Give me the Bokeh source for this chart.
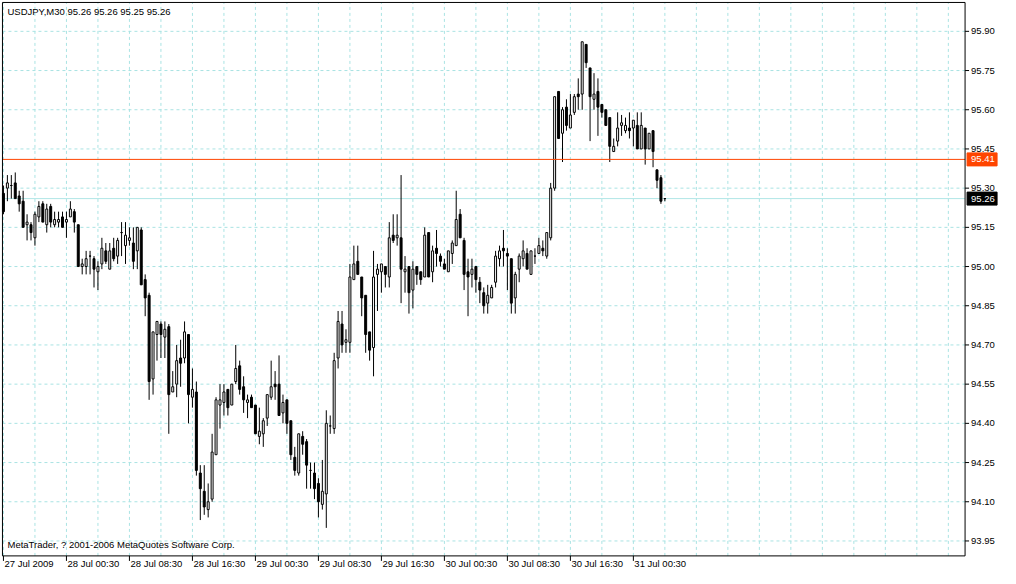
from bokeh.plotting import figure
from bokeh.models import Range1d, ColumnDataSource
from bokeh.core.properties import value
from bokeh.embed import file_html
from bokeh.resources import INLINE

# ---- data (USDJPY M30 candles) ----
opens = [95.28, 95.30, 95.31, 95.32, 95.27, 95.25, 95.16, 95.16, 95.11, 95.19,
         95.24, 95.16, 95.23, 95.16, 95.17, 95.19, 95.17, 95.19, 95.21, 95.16,
         95.00, 95.00, 95.04, 95.03, 94.98, 95.01, 95.06, 94.99, 95.07, 95.04,
         95.13, 95.08, 95.10, 95.09, 95.06, 95.14, 94.95, 94.89, 94.57, 94.74,
         94.78, 94.73, 94.77, 94.52, 94.55, 94.65, 94.65, 94.74, 94.50, 94.52,
         94.21, 94.14, 94.07, 94.11, 94.28, 94.47, 94.48, 94.53, 94.47, 94.56,
         94.62, 94.54, 94.48, 94.50, 94.47, 94.35, 94.36, 94.42, 94.50, 94.55,
         94.55, 94.44, 94.49, 94.41, 94.27, 94.21, 94.35, 94.33, 94.22, 94.21,
         94.17, 94.09, 94.13, 94.39, 94.38, 94.65, 94.78, 94.71, 94.71, 94.95,
         95.02, 94.96, 94.89, 94.75, 94.69, 94.97, 94.98, 95.00, 94.96, 95.12,
         95.11, 95.11, 94.98, 95.00, 94.91, 95.00, 94.98, 94.96, 95.13, 94.98,
         95.07, 95.04, 95.01, 94.98, 95.05, 95.08, 95.20, 95.10, 94.98, 94.97,
         95.00, 94.94, 94.90, 94.86, 94.88, 94.94, 95.03, 95.07, 95.05, 95.03,
         94.88, 94.99, 95.03, 95.05, 94.97, 95.04, 95.05, 95.07, 95.04, 95.11,
         95.30, 95.67, 95.51, 95.61, 95.53, 95.59, 95.66, 95.66, 95.85, 95.76,
         95.64, 95.67, 95.62, 95.60, 95.57, 95.44, 95.48, 95.54, 95.52, 95.53,
         95.53, 95.54, 95.45, 95.53, 95.45, 95.52, 95.37, 95.34, 95.26]
highs = [95.31, 95.35, 95.35, 95.36, 95.29, 95.29, 95.20, 95.17, 95.21, 95.25,
         95.25, 95.24, 95.24, 95.21, 95.21, 95.21, 95.21, 95.25, 95.22, 95.16,
         95.03, 95.06, 95.06, 95.04, 95.02, 95.11, 95.09, 95.09, 95.11, 95.11,
         95.17, 95.17, 95.15, 95.15, 95.15, 95.15, 94.97, 94.90, 94.75, 94.79,
         94.79, 94.79, 94.78, 94.60, 94.70, 94.72, 94.79, 94.74, 94.61, 94.56,
         94.24, 94.24, 94.17, 94.36, 94.50, 94.55, 94.55, 94.53, 94.55, 94.70,
         94.64, 94.58, 94.51, 94.51, 94.47, 94.46, 94.42, 94.51, 94.64, 94.60,
         94.66, 94.51, 94.49, 94.41, 94.31, 94.36, 94.37, 94.34, 94.25, 94.25,
         94.19, 94.26, 94.45, 94.43, 94.67, 94.83, 94.83, 94.76, 95.01, 95.08,
         95.08, 94.96, 94.89, 94.75, 95.06, 95.01, 95.01, 95.00, 95.17, 95.20,
         95.20, 95.35, 95.04, 95.00, 95.02, 95.00, 94.98, 95.15, 95.13, 95.08,
         95.14, 95.05, 95.03, 95.06, 95.10, 95.29, 95.22, 95.11, 95.03, 95.03,
         95.00, 94.96, 94.92, 94.93, 94.93, 95.06, 95.08, 95.14, 95.07, 95.03,
         94.98, 95.05, 95.10, 95.07, 95.06, 95.07, 95.11, 95.10, 95.13, 95.32,
         95.65, 95.67, 95.61, 95.64, 95.66, 95.66, 95.72, 95.86, 95.85, 95.76,
         95.74, 95.72, 95.62, 95.60, 95.57, 95.49, 95.59, 95.58, 95.57, 95.59,
         95.56, 95.59, 95.59, 95.53, 95.51, 95.52, 95.37, 95.35, 95.26]
lows = [95.20, 95.25, 95.26, 95.26, 95.21, 95.15, 95.10, 95.10, 95.08, 95.17,
        95.17, 95.13, 95.15, 95.15, 95.15, 95.15, 95.11, 95.19, 95.13, 95.00,
        94.97, 94.97, 94.97, 94.92, 94.91, 94.99, 95.01, 94.99, 95.02, 95.01,
        95.04, 95.01, 95.08, 94.99, 94.99, 94.93, 94.81, 94.49, 94.51, 94.64,
        94.65, 94.65, 94.36, 94.52, 94.50, 94.54, 94.63, 94.40, 94.46, 94.20,
        94.03, 94.05, 94.04, 94.10, 94.28, 94.38, 94.43, 94.43, 94.47, 94.55,
        94.51, 94.44, 94.42, 94.46, 94.36, 94.32, 94.31, 94.39, 94.49, 94.49,
        94.43, 94.40, 94.36, 94.26, 94.20, 94.20, 94.28, 94.15, 94.15, 94.11,
        94.04, 94.07, 94.00, 94.36, 94.36, 94.61, 94.67, 94.67, 94.67, 94.95,
        94.97, 94.81, 94.67, 94.64, 94.58, 94.83, 94.90, 94.92, 94.92, 95.09,
        95.08, 94.86, 94.90, 94.82, 94.84, 94.93, 94.93, 94.96, 94.96, 94.94,
        95.00, 95.00, 94.99, 94.98, 95.01, 95.08, 95.11, 94.91, 94.81, 94.92,
        94.90, 94.86, 94.82, 94.82, 94.88, 94.92, 95.00, 95.00, 94.91, 94.82,
        94.82, 94.94, 95.00, 94.99, 94.97, 95.01, 95.05, 95.04, 95.03, 95.10,
        95.29, 95.49, 95.40, 95.52, 95.53, 95.58, 95.60, 95.60, 95.76, 95.48,
        95.60, 95.50, 95.57, 95.54, 95.40, 95.44, 95.46, 95.50, 95.51, 95.49,
        95.46, 95.45, 95.45, 95.39, 95.45, 95.38, 95.30, 95.24, 95.25]
closes = [95.21, 95.32, 95.31, 95.26, 95.24, 95.15, 95.17, 95.13, 95.20, 95.23,
          95.17, 95.22, 95.17, 95.18, 95.18, 95.15, 95.18, 95.22, 95.17, 95.00,
          95.01, 95.03, 95.04, 94.99, 95.00, 95.07, 95.02, 95.06, 95.03, 95.10,
          95.13, 95.12, 95.11, 95.02, 95.15, 94.93, 94.88, 94.56, 94.75, 94.79,
          94.74, 94.76, 94.51, 94.54, 94.64, 94.63, 94.75, 94.51, 94.53, 94.22,
          94.15, 94.08, 94.10, 94.29, 94.49, 94.49, 94.52, 94.46, 94.55, 94.61,
          94.53, 94.49, 94.49, 94.46, 94.36, 94.37, 94.41, 94.51, 94.54, 94.54,
          94.43, 94.48, 94.40, 94.28, 94.22, 94.36, 94.32, 94.24, 94.22, 94.15,
          94.10, 94.14, 94.40, 94.39, 94.64, 94.79, 94.70, 94.72, 94.96, 95.01,
          94.97, 94.88, 94.74, 94.68, 94.96, 94.99, 95.01, 94.97, 95.11, 95.10,
          95.12, 94.99, 94.99, 94.90, 94.99, 94.97, 94.95, 95.12, 94.96, 95.06,
          95.05, 95.02, 94.99, 95.06, 95.09, 95.18, 95.11, 94.97, 94.96, 94.99,
          94.95, 94.91, 94.85, 94.89, 94.92, 95.04, 95.06, 95.06, 95.04, 94.86,
          94.97, 95.04, 95.06, 94.99, 95.06, 95.04, 95.08, 95.06, 95.13, 95.30,
          95.65, 95.49, 95.60, 95.54, 95.58, 95.65, 95.65, 95.86, 95.78, 95.65,
          95.66, 95.61, 95.59, 95.54, 95.46, 95.46, 95.53, 95.55, 95.54, 95.52,
          95.56, 95.45, 95.54, 95.45, 95.51, 95.44, 95.33, 95.25, 95.26]

price_ticks = [93.95, 94.10, 94.25, 94.40, 94.55, 94.70, 94.85, 95.00,
               95.15, 95.30, 95.45, 95.60, 95.75, 95.90]
grid_bars = list(range(0, 241, 8))
date_bars = [0, 16, 32, 48, 64, 80, 96, 112, 128, 144, 160]
date_labels = ["27 Jul 2009", "28 Jul 00:30", "28 Jul 08:30", "28 Jul 16:30",
               "29 Jul 00:30", "29 Jul 08:30", "29 Jul 16:30", "30 Jul 00:30",
               "30 Jul 08:30", "30 Jul 16:30", "31 Jul 00:30"]
title_text = "USDJPY,M30  95.26 95.26 95.25 95.26"
copyright_text = "MetaTrader, ? 2001-2006 MetaQuotes Software Corp."
level_price = 95.41
bid_price = 95.26

FONT = value("Liberation Sans")
FS = value("9.5px")
GRID = "#a9e3e3"

# ---- layout: whole canvas is the plot frame; chart box inside it ----
W, H = 1000, 568
XR = (-0.75, 253.25)          # bar units over the full canvas width
YR = (93.8446, 96.018)        # price units over the full canvas height
CL, CR = -0.25, 244.25        # chart box left/right (bar units)
CB, CT = 93.8928, 96.0105     # chart box bottom/top (price units)
PXB = W / (XR[1] - XR[0])     # pixels per bar
PXP = H / (YR[1] - YR[0])     # pixels per yen

def bx(px):
    return px / PXB

def py(px):
    return px / PXP

p = figure(width=W, height=H, x_range=Range1d(*XR), y_range=Range1d(*YR),
           output_backend="svg", toolbar_location=None,
           x_axis_location=None, y_axis_location=None, min_border=0)
p.grid.visible = False
p.outline_line_color = None
p.background_fill_color = "white"
p.border_fill_color = "white"

# grid (dashed)
p.segment(x0=grid_bars, y0=[CB] * len(grid_bars), x1=grid_bars, y1=[CT] * len(grid_bars),
          line_color=GRID, line_dash="3 3", line_width=1)
p.segment(x0=[CL] * len(price_ticks), y0=price_ticks, x1=[CR] * len(price_ticks), y1=price_ticks,
          line_color=GRID, line_dash="3 3", line_width=1)

# bid line
p.segment(x0=[CL], y0=[bid_price], x1=[CR], y1=[bid_price], line_color="#b0e6e6", line_width=1)

# candles
src = ColumnDataSource(dict(
    x=list(range(len(opens))), o=opens, h=highs, l=lows, c=closes,
    top=[max(o, c) for o, c in zip(opens, closes)],
    bot=[min(o, c) for o, c in zip(opens, closes)],
    fill=["white" if c >= o else "black" for o, c in zip(opens, closes)],
))
p.segment(x0="x", y0="l", x1="x", y1="h", source=src, line_color="black", line_width=1)
p.vbar(x="x", top="top", bottom="bot", width=0.5, source=src, fill_color="fill",
       line_color="black", line_width=1)

# horizontal level line
p.segment(x0=[CL], y0=[level_price], x1=[CR], y1=[level_price], line_color="#ff4500", line_width=1)

# chart border
p.quad(left=[CL], right=[CR], bottom=[CB], top=[CT], fill_color=None, line_color="black", line_width=1)

# right price scale: ticks + labels
p.segment(x0=[CR] * len(price_ticks), y0=price_ticks, x1=[CR + bx(4)] * len(price_ticks), y1=price_ticks,
          line_color="black", line_width=1)
p.text(x=[CR] * len(price_ticks), y=price_ticks, text=[f"{t:.2f}" for t in price_ticks],
       x_offset=6, text_align="left", text_baseline="middle",
       text_font=FONT, text_font_size=FS, text_color="black")

# price boxes on the scale
box_prices = [level_price, bid_price]
box_colors = ["#ff4500", "black"]
p.rect(x=[CR + bx(17)] * 2, y=box_prices, width=30, height=13, width_units="screen",
       height_units="screen", fill_color=box_colors, line_color=box_colors)
p.text(x=[CR] * 2, y=box_prices, text=[f"{v:.2f}" for v in box_prices],
       x_offset=6, text_align="left", text_baseline="middle",
       text_font=FONT, text_font_size=FS, text_color="white")

# bottom time scale: ticks + left-aligned labels
p.segment(x0=date_bars, y0=[CB] * len(date_bars), x1=date_bars, y1=[CB - py(5)] * len(date_bars),
          line_color="black", line_width=1)
p.text(x=date_bars, y=[CB - py(2)] * len(date_bars), text=date_labels,
       x_offset=1, text_align="left", text_baseline="top",
       text_font=FONT, text_font_size=FS, text_color="black")

# texts inside the chart
p.text(x=[CL], y=[CT - py(4)], text=[title_text], x_offset=5, text_align="left",
       text_baseline="top", text_font=FONT, text_font_size=FS, text_color="black")
p.text(x=[CL], y=[CB + py(6)], text=[copyright_text], x_offset=5, text_align="left",
       text_baseline="bottom", text_font=FONT, text_font_size=FS, text_color="black")

open("out.html", "w").write(file_html(p, INLINE))
